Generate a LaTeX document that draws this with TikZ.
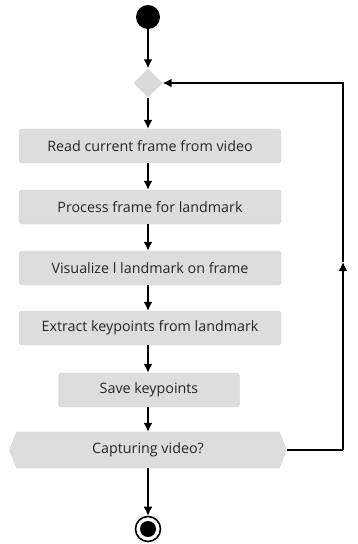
\documentclass[tikz,border=0pt]{standalone}
\usepackage{fontspec}
\setmainfont{Open Sans}
\usetikzlibrary{shapes.symbols,shapes.geometric,arrows.meta}
\begin{document}
\begin{tikzpicture}[x=1pt,y=-1pt,
    flow/.style={draw=black,line width=1.6pt,-{Latex[length=9pt,width=9pt]}},
    action/.style={rectangle,rounded corners=3pt,fill=gray!27,draw=gray!35,
        minimum height=34pt,font=\fontsize{14.3}{16}\selectfont,text=black!85},
    decide/.style={signal,signal to=west and east,signal pointer angle=136,
        fill=gray!27,draw=gray!35,minimum height=36pt,minimum width=277pt,
        font=\fontsize{14.3}{16}\selectfont,text=black!85}]
    \useasboundingbox (0,0) rectangle (358,544);
    \fill[black] (148,17) circle (12) coordinate (start);
    \node[diamond,fill=gray!30,minimum size=29pt,inner sep=0pt] (merge) at (148,83) {};
    \node[action,minimum width=262pt] (read) at (150,146) {Read current frame from video};
    \node[action,minimum width=262pt] (process) at (150,207) {Process frame for landmark};
    \node[action,minimum width=262pt] (visualize) at (150,268) {Visualize l landmark on frame};
    \node[action,minimum width=262pt] (extract) at (150,328) {Extract keypoints from landmark};
    \node[action,minimum width=181pt] (save) at (149,390) {Save keypoints};
    \node[decide] (capture) at (148,450) {Capturing video?};
    \node[circle,draw=black,line width=1.6pt,minimum size=25pt,inner sep=0pt] (stop) at (148,529) {};
    \fill[black] (stop.center) circle (8);
    \coordinate (turn) at (343,450);
    \coordinate (midup) at (343,262);
    \coordinate (loop) at (343,83);
    \draw[flow] (148,29) -- (merge.north);
    \draw[flow] (merge.south) -- (read.north -| merge);
    \draw[flow] (read.south -| merge) -- (process.north -| merge);
    \draw[flow] (process.south -| merge) -- (visualize.north -| merge);
    \draw[flow] (visualize.south -| merge) -- (extract.north -| merge);
    \draw[flow] (extract.south -| merge) -- (save.north -| merge);
    \draw[flow] (save.south -| merge) -- (capture.north -| merge);
    \draw[flow] (capture.south -| merge) -- (stop.north);
    \draw[line width=1.6pt] (capture.east) -- (turn);
    \draw[flow] (turn) -- (midup);
    \draw[flow] (midup) -- (loop) -- (merge.east);
\end{tikzpicture}
\end{document}
